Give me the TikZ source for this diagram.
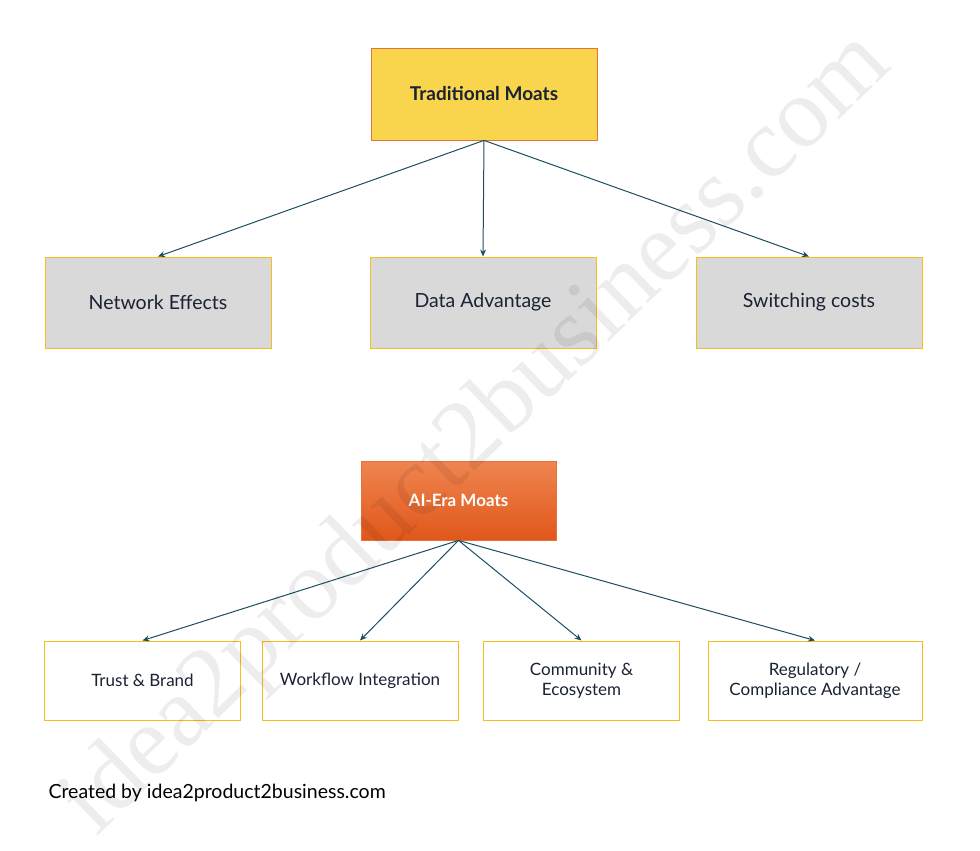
\documentclass[tikz,border=0pt]{standalone}
\usepackage{fontspec}
\setmainfont{Lato}
\usetikzlibrary{arrows.meta}
\definecolor{moatyellow}{HTML}{F9D54E}
\definecolor{moatred}{HTML}{E8703A}
\definecolor{boxgray}{HTML}{D9D9D9}
\definecolor{boxline}{HTML}{F5BE1A}
\definecolor{linkcol}{HTML}{1B4E62}
\definecolor{darktext}{HTML}{1A2233}
\definecolor{orangetop}{HTML}{EF8550}
\definecolor{orangebot}{HTML}{E0571A}
\tikzset{
  moatbox/.style={draw=boxline, line width=1pt, inner sep=0pt, text=darktext},
  topbox/.style={moatbox, fill=boxgray, minimum width=226pt, minimum height=91pt, font=\fontsize{19.5}{22}\selectfont},
  lowbox/.style={moatbox, fill=white, minimum width=196pt, minimum height=79pt, align=center, font=\fontsize{17}{20}\selectfont},
  link/.style={draw=linkcol, line width=1pt, -{Stealth[length=7pt,width=6pt]}}
}
\begin{document}
\begin{tikzpicture}[x=1pt,y=-1pt]
  \useasboundingbox (0,0) rectangle (980,851);

  % traditional moats
  \node[draw=moatred, line width=0.8pt, fill=moatyellow, minimum width=226pt, minimum height=92pt, text=darktext, font=\bfseries\fontsize{19}{22}\selectfont] (trad) at (484,94) {Traditional Moats};
  \node[topbox] (net) at (158,302.5) {Network Effects};
  \node[topbox] (data) at (483,302.5) {Data Advantage};
  \node[topbox] (switch) at (809,302.5) {Switching costs};

  \draw[link] (trad.south) -- (net.north);
  \draw[link] (trad.south) -- (data.north);
  \draw[link] (trad.south) -- (switch.north);

  % ai-era moats
  \node[draw=moatred, line width=0.8pt, top color=orangetop, bottom color=orangebot, minimum width=195pt, minimum height=79pt, text=white, font=\bfseries\fontsize{17}{20}\selectfont] (ai) at (458.5,500.5) {AI-Era Moats};
  \node[lowbox] (trust) at (142.5,680.5) {Trust \& Brand};
  \node[lowbox] (flow) at (360,680.5) {Workflow Integration};
  \node[lowbox] (comm) at (581.5,680.5) {Community \&\\Ecosystem};
  \node[lowbox, minimum width=214pt] (reg) at (815,680.5) {Regulatory /\\Compliance Advantage};

  \foreach \b in {trust,flow,comm,reg}
    \draw[link] (ai.south) -- (\b.north);

  \node[anchor=west, text=black, font=\fontsize{19.5}{22}\selectfont] (credit) at (45,793) {Created by idea2product2business.com};

  % watermark
  \node[rotate=44, text=black, opacity=0.07, font=\fontspec{Liberation Serif}\fontsize{100}{100}\selectfont] (mark) at (478,435) {idea2product2business.com};
\end{tikzpicture}
\end{document}
